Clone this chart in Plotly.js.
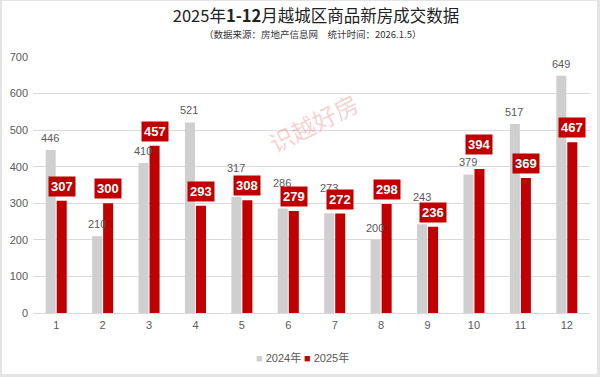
<!DOCTYPE html>
<html>
<head>
<meta charset="utf-8">
<script src="https://cdn.plot.ly/plotly-3.0.1.min.js"></script>
<style>
html,body{margin:0;padding:0;background:#fff;}
#wrap{position:relative;width:600px;height:377px;}
#chart{width:600px;height:377px;}
#frame{position:absolute;left:0;top:0;width:600px;height:377px;box-sizing:border-box;border-left:2px solid #e4e4e4;border-top:1px solid #e4e4e4;border-right:3px solid #e4e4e4;border-bottom:3px solid #e4e4e4;pointer-events:none;}
</style>
</head>
<body>
<div id="wrap"><div id="chart"></div><div id="frame"></div></div>
<script>
const months = ['1','2','3','4','5','6','7','8','9','10','11','12'];
const sales2024 = [446,210,410,521,317,286,273,200,243,379,517,649];
const sales2025 = [307,300,457,293,308,279,272,298,236,394,369,467];
const seriesNames = ['2024年','2025年'];

// extra upward shift (px) for labels moved to avoid collisions
const labelLift2024 = [0,0,0,0,17,13,13,0,15,0,0,0];
const labelLift2025 = [0,0,0,0,0,0,0,0,0,10,0,0];

const grayC = '#cfcfcf';
const redC = '#c00000';
const txtC = '#595959';
const font = '"Liberation Sans", Arial, "Noto Sans CJK SC", sans-serif';
const cjk = '"Noto Sans CJK SC", "Liberation Serif", serif';

const traces = [
  {type:'bar', name:seriesNames[0], x:months, y:sales2024, marker:{color:grayC},
   textposition:'none', hoverinfo:'none', showlegend:false},
  {type:'bar', name:seriesNames[1], x:months, y:sales2025, marker:{color:redC},
   textposition:'none', hoverinfo:'none', showlegend:false}
];

const annotations = [];
sales2024.forEach((v,i)=>{
  annotations.push({
    x:i, y:v, xref:'x', yref:'y', xshift:-6, yshift:12+labelLift2024[i], yanchor:'middle',
    text:String(v), showarrow:false, font:{color:txtC, size:11, family:font}
  });
});
sales2025.forEach((v,i)=>{
  annotations.push({
    x:i, y:v, xref:'x', yref:'y', xshift:5.5, yshift:4+labelLift2025[i], yanchor:'bottom',
    text:'<b>'+v+'</b>', showarrow:false, bgcolor:redC, borderpad:2,
    font:{color:'#ffffff', size:13, family:font}
  });
});
annotations.push({
  xref:'paper', yref:'paper', x:(312-33)/557, y:(313-34)/256, xanchor:'center', yanchor:'middle',
  text:'（数据来源：房地产信息网　统计时间：2026.1.5）', showarrow:false,
  font:{size:9.5, color:'#333333', family:cjk}
});
annotations.push({
  xref:'paper', yref:'paper', x:(313-33)/557, y:(313-122)/256, xanchor:'center', yanchor:'middle',
  text:'识越好房', showarrow:false, textangle:-27,
  font:{size:24, color:'rgba(225,90,90,0.28)', family:cjk}
});
// legend entries
const legendColors = [grayC, redC];
const legendX = [278, 326];
seriesNames.forEach((n,k)=>{
  annotations.push({
    xref:'paper', yref:'paper', x:(legendX[k]-33)/557, y:(313-357)/256, xanchor:'center', yanchor:'middle',
    text:'<span style="color:'+legendColors[k]+'">■</span> '+n, showarrow:false,
    font:{size:11, color:txtC, family:font}
  });
});

const layout = {
  width:600, height:377,
  margin:{l:33, r:10, t:57, b:64},
  paper_bgcolor:'#ffffff', plot_bgcolor:'#ffffff',
  title:{text:'2025年<b>1-12</b>月越城区商品新房成交数据', x:316/600, xanchor:'center', y:1-16/377, yanchor:'middle',
         font:{size:16.5, color:'#222222', family:cjk}},
  barmode:'group', bargap:0.525, bargroupgap:0.09,
  showlegend:false,
  xaxis:{type:'category', showgrid:false, showline:false, zeroline:false, ticks:'',
         tickfont:{size:11, color:txtC, family:font}, ticklabelstandoff:4},
  yaxis:{range:[0,700], dtick:100, showgrid:true, gridcolor:'#d9d9d9', gridwidth:1,
         zeroline:true, zerolinecolor:'#d9d9d9', zerolinewidth:1, showline:false, ticks:'',
         tickfont:{size:11, color:txtC, family:font}, ticklabelstandoff:4},
  annotations:annotations
};

Plotly.newPlot('chart', traces, layout, {displayModeBar:false, staticPlot:true});
</script>
</body>
</html>
